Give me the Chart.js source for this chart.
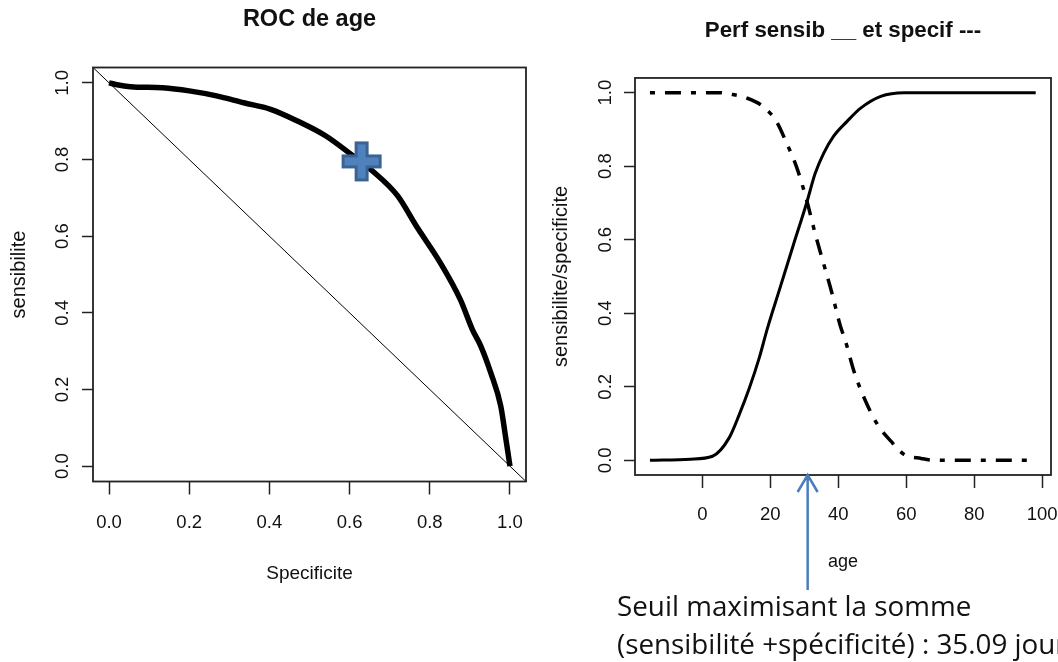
<!DOCTYPE html>
<html>
<head>
<meta charset="utf-8">
<script src="https://cdn.jsdelivr.net/npm/chart.js@4.4.0/dist/chart.umd.min.js"></script>
<style>
  html, body { margin: 0; padding: 0; background: #fff; overflow: hidden; }
  #wrap { position: relative; width: 1058px; height: 662px; overflow: hidden; }
  canvas { position: absolute; top: 0; }
  #rocChart { left: 0; }
  #perfChart { left: 530px; }
  #note {
    position: absolute; left: 617px; top: 587px;
    font: 27.8px/37.6px 'Open Sans', sans-serif; color: #111; white-space: nowrap;
  }
</style>
</head>
<body>
<div id="wrap">
  <canvas id="rocChart" width="530" height="662"></canvas>
  <canvas id="perfChart" width="528" height="662"></canvas>
  <div id="note">Seuil maximisant la somme<br>(sensibilité +spécificité) : 35.09 jours</div>
</div>
<script>
// ROC curve: specificite on x, sensibilite on y
const rocSpec = [0, 0.02, 0.053, 0.133, 0.2, 0.268, 0.336, 0.403, 0.471, 0.54, 0.603, 0.657, 0.72, 0.766, 0.826, 0.876, 0.906, 0.927, 0.952, 0.977, 0.99, 1.0];
const rocSens = [1.0, 0.995, 0.99, 0.987, 0.979, 0.966, 0.948, 0.931, 0.9, 0.862, 0.814, 0.77, 0.705, 0.627, 0.531, 0.435, 0.357, 0.314, 0.244, 0.157, 0.07, 0.0];

// reference line sens = 1 - spec, corner to corner
const diagSpec = [-0.04, 1.04];
const diagSens = [1.04, -0.04];

// chosen threshold marked on the ROC curve
const bestSpec = [0.63];
const bestSens = [0.795];

// sensibilite (solid) and specificite (dot-dash) against age
const sensAge = [-15.4, -3.5, 3.0, 7.9, 10.9, 13.9, 16.8, 19.1, 22.8, 26.7, 30.7, 33.2, 35.7, 38.6, 42.6, 46.6, 52.5, 59.4, 98.1];
const sensVal = [0, 0.003, 0.011, 0.061, 0.125, 0.198, 0.28, 0.357, 0.467, 0.583, 0.70, 0.78, 0.835, 0.881, 0.922, 0.958, 0.99, 1.0, 1.0];
const specAge = [-15.4, 5.0, 8.9, 12.9, 17.8, 21.8, 24.8, 27.7, 30.7, 33.2, 35.7, 38.2, 40.6, 42.1, 44.6, 47.6, 51.5, 55.5, 59.4, 64.4, 68.4, 98.1];
const specVal = [1.0, 1.0, 0.995, 0.986, 0.963, 0.922, 0.863, 0.799, 0.708, 0.617, 0.535, 0.453, 0.366, 0.325, 0.243, 0.17, 0.098, 0.052, 0.016, 0.005, 0.0, 0.0];

// age the arrow points at
const seuilAge = 31;

// tick labels
const probTicks = [0, 0.2, 0.4, 0.6, 0.8, 1.0];
const ageTicks = [0, 20, 40, 60, 80, 100];

Chart.defaults.font.family = "'Liberation Sans', Arial, sans-serif";
Chart.defaults.color = '#111';

const pts = (xs, ys) => xs.map((x, i) => ({ x: x, y: ys[i] }));

// blue "+" marker used as a point style
function plusMarker() {
  const c = document.createElement('canvas');
  c.width = c.height = 44;
  const g = c.getContext('2d');
  const m = 22, h = 18.5, a = 5.5;
  g.beginPath();
  g.moveTo(m - a, m - h); g.lineTo(m + a, m - h); g.lineTo(m + a, m - a);
  g.lineTo(m + h, m - a); g.lineTo(m + h, m + a); g.lineTo(m + a, m + a);
  g.lineTo(m + a, m + h); g.lineTo(m - a, m + h); g.lineTo(m - a, m + a);
  g.lineTo(m - h, m + a); g.lineTo(m - h, m - a); g.lineTo(m - a, m - a);
  g.closePath();
  g.fillStyle = '#4F81BD';
  g.fill();
  g.lineWidth = 3;
  g.strokeStyle = '#3A6394';
  g.stroke();
  return c;
}

// R style axis: ticks outside, no grid, fixed thickness
function axis(o) {
  return {
    type: 'linear',
    min: o.min,
    max: o.max,
    afterBuildTicks: s => { s.ticks = o.ticks.map(v => ({ value: v })); },
    afterFit: s => {
      if (o.width) s.width = o.width;
      if (o.height) s.height = o.height;
      s.paddingLeft = s.paddingRight = s.paddingTop = s.paddingBottom = 0;
    },
    border: { display: false },
    grid: { drawOnChartArea: false, drawTicks: true, tickLength: o.tl, tickWidth: 1.5, tickColor: '#222' },
    ticks: {
      padding: o.pad,
      font: { size: 18.5 },
      minRotation: o.rot || 0,
      maxRotation: o.rot || 0,
      crossAlign: o.rot ? 'center' : 'near',
      autoSkip: false,
      callback: o.fmt
    },
    title: { display: true, text: o.title, font: { size: o.titleSize }, padding: o.titlePad }
  };
}

const boxPlugin = {
  id: 'box',
  afterDatasetsDraw(chart) {
    const { ctx, chartArea: a } = chart;
    ctx.save();
    ctx.strokeStyle = '#222';
    ctx.lineWidth = 1.8;
    ctx.strokeRect(a.left, a.top, a.right - a.left, a.bottom - a.top);
    ctx.restore();
  }
};

const arrowPlugin = {
  id: 'seuilArrow',
  afterDraw(chart) {
    const { ctx, chartArea } = chart;
    const px = chart.scales.x.getPixelForValue(seuilAge);
    const tip = chartArea.bottom;
    ctx.save();
    ctx.strokeStyle = '#4A7EBB';
    ctx.lineWidth = 2.5;
    ctx.beginPath();
    ctx.moveTo(px, tip + 115);
    ctx.lineTo(px, tip);
    ctx.moveTo(px - 10, tip + 17);
    ctx.lineTo(px, tip);
    ctx.lineTo(px + 10, tip + 17);
    ctx.stroke();
    ctx.restore();
  }
};

const common = {
  responsive: false,
  devicePixelRatio: 1,
  animation: false,
  events: [],
  elements: { point: { radius: 0 }, line: { tension: 0 } },
};

new Chart(document.getElementById('rocChart'), {
  type: 'line',
  data: {
    datasets: [
      { data: pts(bestSpec, bestSens), showLine: false, pointStyle: plusMarker(), pointRadius: 20 },
      { data: pts(rocSpec, rocSens), borderColor: '#000', borderWidth: 5.5, cubicInterpolationMode: 'monotone' },
      { data: pts(diagSpec, diagSens), borderColor: '#000', borderWidth: 1 }
    ]
  },
  options: Object.assign({}, common, {
    layout: { autoPadding: false, padding: { left: 0, top: 0, right: 4, bottom: 0 } },
    plugins: {
      legend: { display: false },
      tooltip: { enabled: false },
      title: {
        display: true, text: 'ROC de age', fullSize: false, color: '#111',
        font: { size: 23.5, weight: 'bold' }, padding: { top: 5.9, bottom: 33.4 }
      }
    },
    scales: {
      x: axis({ min: -0.04, max: 1.04, ticks: probTicks, height: 180.5, tl: 13, pad: 17,
        fmt: v => v.toFixed(1), title: 'Specificite', titleSize: 19, titlePad: { top: 0, bottom: 76.6 } }),
      y: axis({ min: -0.04, max: 1.04, ticks: probTicks, width: 93, tl: 11, pad: 6, rot: 90,
        fmt: v => v.toFixed(1), title: 'sensibilite', titleSize: 20, titlePad: { top: 7, bottom: 0 } })
    }
  }),
  plugins: [boxPlugin]
});

new Chart(document.getElementById('perfChart'), {
  type: 'line',
  data: {
    datasets: [
      { data: pts(sensAge, sensVal), borderColor: '#000', borderWidth: 3, cubicInterpolationMode: 'monotone' },
      { data: pts(specAge, specVal), borderColor: '#000', borderWidth: 3.5, borderDash: [5, 10, 16, 10],
        cubicInterpolationMode: 'monotone' }
    ]
  },
  options: Object.assign({}, common, {
    layout: { autoPadding: false, padding: { left: 0, top: 0, right: 7, bottom: 0 } },
    plugins: {
      legend: { display: false },
      tooltip: { enabled: false },
      title: {
        display: true, text: 'Perf sensib __ et specif ---', fullSize: false, color: '#111',
        font: { size: 22.3, weight: 'bold' }, padding: { top: 17.6, bottom: 33.6 }
      }
    },
    scales: {
      x: axis({ min: -19.8, max: 102.6, ticks: ageTicks, height: 187, tl: 13, pad: 15.6,
        fmt: v => String(v), title: 'age', titleSize: 18, titlePad: { top: 0, bottom: 88.9 } }),
      y: axis({ min: -0.04, max: 1.04, ticks: probTicks, width: 105, tl: 11, pad: 5.6, rot: 90,
        fmt: v => v.toFixed(1), title: 'sensibilite/specificite', titleSize: 20, titlePad: { top: 19, bottom: 0 } })
    }
  }),
  plugins: [boxPlugin, arrowPlugin]
});
</script>
</body>
</html>
